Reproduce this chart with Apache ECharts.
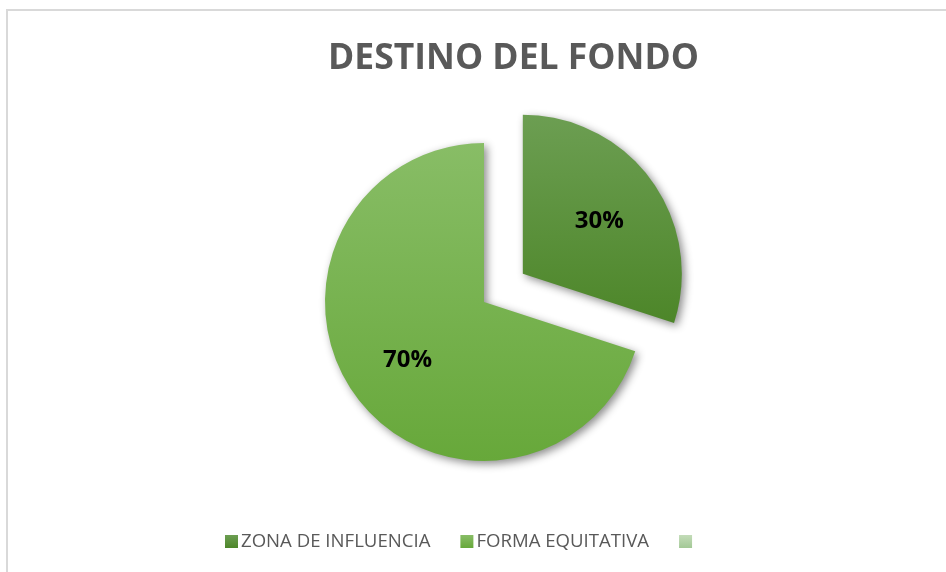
<!DOCTYPE html>
<html>
<head>
<meta charset="utf-8">
<script src="https://cdn.jsdelivr.net/npm/echarts@6/dist/echarts.min.js"></script>
<style>
  html, body { margin: 0; padding: 0; background: #ffffff; }
  #chart { width: 946px; height: 572px; }
</style>
</head>
<body>
<div id="chart"></div>
<script>
// Destino del fondo: distribution shares
const categories = ['ZONA DE INFLUENCIA', 'FORMA EQUITATIVA', ' '];
const shares = [30, 70, 0];
const explodedSlice = [true, false, false];

const sliceColors = [
  ['#6c9e52', '#4d8629'],
  ['#88bd66', '#67a83a'],
  ['#c3dcb8', '#a3c896']
];

function gradient(pair) {
  return new echarts.graphic.LinearGradient(0, 0, 0, 1, [
    { offset: 0, color: pair[0] },
    { offset: 1, color: pair[1] }
  ]);
}

// mid-angle of each slice (clockwise from 12 o'clock), used to push labels outward a bit
const total = shares.reduce((a, b) => a + b, 0);
const midAngles = [];
let acc = 0;
shares.forEach(v => {
  midAngles.push(((acc + v / 2) / total) * 2 * Math.PI);
  acc += v;
});

const pieData = categories.map((name, i) => ({
  name: name,
  value: shares[i],
  selected: explodedSlice[i],
  itemStyle: { color: gradient(sliceColors[i]) },
  label: { show: shares[i] > 0 }
}));

const chart = echarts.init(document.getElementById('chart'), null, { renderer: 'canvas' });

chart.setOption({
  backgroundColor: '#ffffff',
  animation: false,
  title: {
    text: 'DESTINO DEL FONDO',
    left: 323,
    top: 36,
    textStyle: {
      fontFamily: 'Open Sans',
      fontWeight: 'bold',
      fontSize: 35.5,
      color: '#595959'
    }
  },
  legend: {
    left: 220,
    top: 527,
    itemWidth: 13,
    itemHeight: 13,
    itemGap: 30,
    icon: 'rect',
    selectedMode: false,
    data: categories,
    textStyle: {
      fontFamily: 'Open Sans',
      fontSize: 18.6,
      color: '#595959',
      padding: [0, 0, 0, -2]
    }
  },
  graphic: [{
    type: 'rect',
    silent: true,
    shape: { x: 7, y: 10, width: 1000, height: 1000 },
    style: { fill: 'none', stroke: '#d9d9d9', lineWidth: 2 }
  }],
  series: [{
    type: 'pie',
    center: [484, 302],
    radius: [0, 159],
    startAngle: 90,
    clockwise: true,
    selectedMode: 'single',
    selectedOffset: 48,
    avoidLabelOverlap: false,
    itemStyle: {
      shadowBlur: 8,
      shadowColor: 'rgba(0,0,0,0.45)',
      shadowOffsetX: 3,
      shadowOffsetY: 3
    },
    label: {
      position: 'inside',
      formatter: '{d}%',
      fontFamily: 'Open Sans',
      fontWeight: 'bold',
      fontSize: 24,
      color: '#000000'
    },
    labelLine: { show: false },
    emphasis: { disabled: true },
    labelLayout: function (p) {
      const a = midAngles[p.dataIndex];
      const k = 12;
      return { dx: k * Math.sin(a), dy: -k * Math.cos(a) + 3 };
    },
    data: pieData
  }]
});
</script>
</body>
</html>
